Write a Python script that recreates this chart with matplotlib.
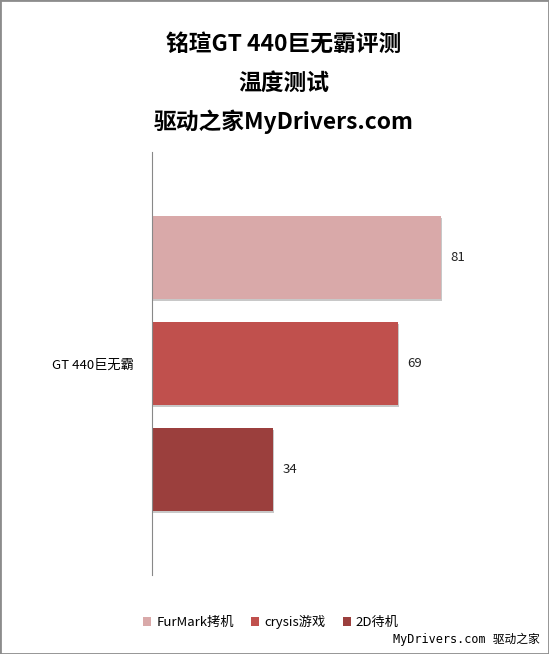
import matplotlib
matplotlib.use('Agg')
import matplotlib.pyplot as plt
from matplotlib.patches import Rectangle

plt.rcParams['font.family'] = ['Noto Sans CJK SC', 'DejaVu Sans']

category = 'GT 440巨无霸'
series = ['FurMark拷机', 'crysis游戏', '2D待机']
values = [81, 69, 34]
colors = ['#D9A9A9', '#C0504D', '#9B3F3D']

W, H = 549, 654
fig = plt.figure(figsize=(W / 100, H / 100), dpi=100)

# plot area in pixel coordinates: x 152..473, y 152..575
ax = fig.add_axes([152 / W, 1 - 575 / H, (473 - 152) / W, (575 - 152) / H])
ax.set_xlim(0, 90)
ax.set_ylim(-0.5, 0.5)

offsets = [0.25, 0.0, -0.25]
bar_h = 0.196
for val, off, col, name in zip(values, offsets, colors, series):
    # soft shadow
    ax.barh(off - 0.005, val + 0.25, height=bar_h, left=0, color='#C8C8C8',
            zorder=1)
    ax.barh(off, val, height=bar_h, color=col, linewidth=0, zorder=2, label=name)
    ax.text(val + 4.6, off, str(val), va='center', ha='center', fontsize=9.5,
            color='#222222')

for s in ['top', 'right', 'bottom']:
    ax.spines[s].set_visible(False)
ax.spines['left'].set_color('#888888')
ax.set_xticks([])
ax.set_yticks([0])
ax.set_yticklabels([category], fontsize=9.5)
ax.tick_params(axis='y', length=0, pad=13)

for txt, y in [('铭瑄GT 440巨无霸评测', 45), ('温度测试', 83),
               ('驱动之家MyDrivers.com', 122)]:
    fig.text(284 / W, 1 - y / H, txt, ha='center', va='center',
             fontsize=16.4, fontweight='bold')

handles, labels = ax.get_legend_handles_labels()
fig.legend(handles, labels, loc='center', bbox_to_anchor=(271 / W, 1 - 622 / H),
           ncol=3, frameon=False, fontsize=9.5, handlelength=0.6, handleheight=0.6,
           columnspacing=1.3, handletextpad=0.4)

fig.text(540 / W, 1 - 639 / H, 'MyDrivers.com 驱动之家', ha='right', va='center',
         fontsize=8.5, family=['DejaVu Sans Mono', 'Noto Sans CJK SC'])

fig.patches.append(Rectangle((0, 0), 1, 1, transform=fig.transFigure, fill=False,
                             edgecolor='#8C8C8C', linewidth=2))

fig.savefig('out.png', dpi=100)
